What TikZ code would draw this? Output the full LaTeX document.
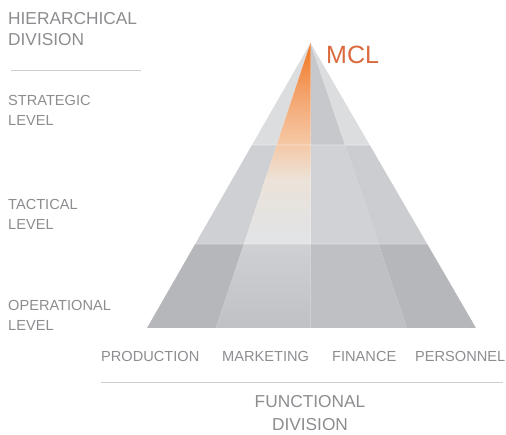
\documentclass[tikz,border=0pt]{standalone}
\usepackage{fontspec}
\setmainfont{Liberation Sans}
\usetikzlibrary{calc}
\definecolor{txt}{HTML}{8C8D90}
\definecolor{rulec}{HTML}{CFCFD1}
\definecolor{mclc}{HTML}{DA6A3E}
\definecolor{tlo}{HTML}{DCDDDF}
\definecolor{tri}{HTML}{C6C8CB}
\definecolor{tro}{HTML}{DCDDDF}
\definecolor{mlo}{HTML}{CED0D3}
\definecolor{mri}{HTML}{D1D2D5}
\definecolor{mro}{HTML}{CBCDD0}
\definecolor{blo}{HTML}{B6B7BA}
\definecolor{bri}{HTML}{BFC0C3}
\definecolor{bro}{HTML}{B6B7BA}
\definecolor{blitop}{HTML}{CFD0D3}
\definecolor{blibot}{HTML}{C0C1C4}
\definecolor{gA}{HTML}{E3E4E6}
\definecolor{gB}{HTML}{E4E3E2}
\definecolor{gC}{HTML}{ECE2D8}
\definecolor{gD}{HTML}{F5C8A5}
\definecolor{gE}{HTML}{F4A46E}
\definecolor{gF}{HTML}{F08032}
\definecolor{gG}{HTML}{EF7722}
\pgfdeclareverticalshading{mclshade}{100bp}{color(0bp)=(gA); color(25bp)=(gA);
  color(31bp)=(gB); color(41bp)=(gC); color(50bp)=(gD);
  color(62bp)=(gE); color(72bp)=(gF); color(75bp)=(gG); color(100bp)=(gG)}
\tikzset{
  lbl/.style={anchor=base west, inner sep=0pt, text=txt, font=\fontsize{14.6}{16}\selectfont},
  head/.style={anchor=base west, inner sep=0pt, text=txt, font=\fontsize{17.3}{19}\selectfont},
  headc/.style={anchor=base, inner sep=0pt, text=txt, font=\fontsize{17.3}{19}\selectfont},
  seprule/.style={draw=rulec, line width=1pt},
  seam/.style={white, opacity=0.18, line width=1.2pt},
}
\begin{document}
\begin{tikzpicture}[x=1pt,y=-1pt]
\useasboundingbox (0,0) rectangle (506,435);
% key points
\coordinate (A) at (310.5,43);
\coordinate (BL) at (147,328);
\coordinate (BIL) at (216,328);
\coordinate (BC) at (310.5,328);
\coordinate (BIR) at (407,328);
\coordinate (BR) at (476,328);
\foreach \n/\t in {1/0.358,2/0.705}{
  \coordinate (L\n) at ($(A)!\t!(BL)$);
  \coordinate (IL\n) at ($(A)!\t!(BIL)$);
  \coordinate (C\n) at ($(A)!\t!(BC)$);
  \coordinate (IR\n) at ($(A)!\t!(BIR)$);
  \coordinate (R\n) at ($(A)!\t!(BR)$);
}
% top level
\fill[tlo] (A) -- (L1) -- (IL1) -- cycle;
\fill[tri] (A) -- (C1) -- (IR1) -- cycle;
\fill[tro] (A) -- (IR1) -- (R1) -- cycle;
% middle level
\fill[mlo] (L1) -- (L2) -- (IL2) -- (IL1) -- cycle;
\fill[mri] (C1) -- (C2) -- (IR2) -- (IR1) -- cycle;
\fill[mro] (IR1) -- (IR2) -- (R2) -- (R1) -- cycle;
% bottom level
\fill[blo] (L2) -- (BL) -- (BIL) -- (IL2) -- cycle;
\shade[top color=blitop, bottom color=blibot] (IL2) -- (BIL) -- (BC) -- (C2) -- cycle;
\fill[bri] (C2) -- (BC) -- (BIR) -- (IR2) -- cycle;
\fill[bro] (IR2) -- (BIR) -- (BR) -- (R2) -- cycle;
% MCL column
\shade[shading=mclshade] (A) -- (IL2) -- (C2) -- cycle;
% level seams
\draw[seam] (L1) -- (R1);
\draw[seam] (L2) -- (R2);
% labels
\node[anchor=base west, inner sep=0pt, text=mclc, font=\fontsize{25}{28}\selectfont] (mcl) at (326,64) {MCL};
\node[head] (h1) at (8,25) {HIERARCHICAL};
\node[head] (h2) at (8,46) {DIVISION};
\draw[seprule] (11,71) coordinate (s1) -- (141,71) coordinate (s2);
\node[lbl] (st1) at (8,106) {STRATEGIC};
\node[lbl] (st2) at (8,126) {LEVEL};
\node[lbl] (ta1) at (8,210) {TACTICAL};
\node[lbl] (ta2) at (8,230) {LEVEL};
\node[lbl] (op1) at (8,311) {OPERATIONAL};
\node[lbl] (op2) at (8,331) {LEVEL};
\node[lbl] (f1) at (101,362) {PRODUCTION};
\node[lbl] (f2) at (222,362) {MARKETING};
\node[lbl] (f3) at (332,362) {FINANCE};
\node[lbl] (f4) at (415,362) {PERSONNEL};
\draw[seprule] (101,383) coordinate (s3) -- (503,383) coordinate (s4);
\node[headc] (fd1) at (310,408) {FUNCTIONAL};
\node[headc] (fd2) at (310,431) {DIVISION};
\end{tikzpicture}
\end{document}
